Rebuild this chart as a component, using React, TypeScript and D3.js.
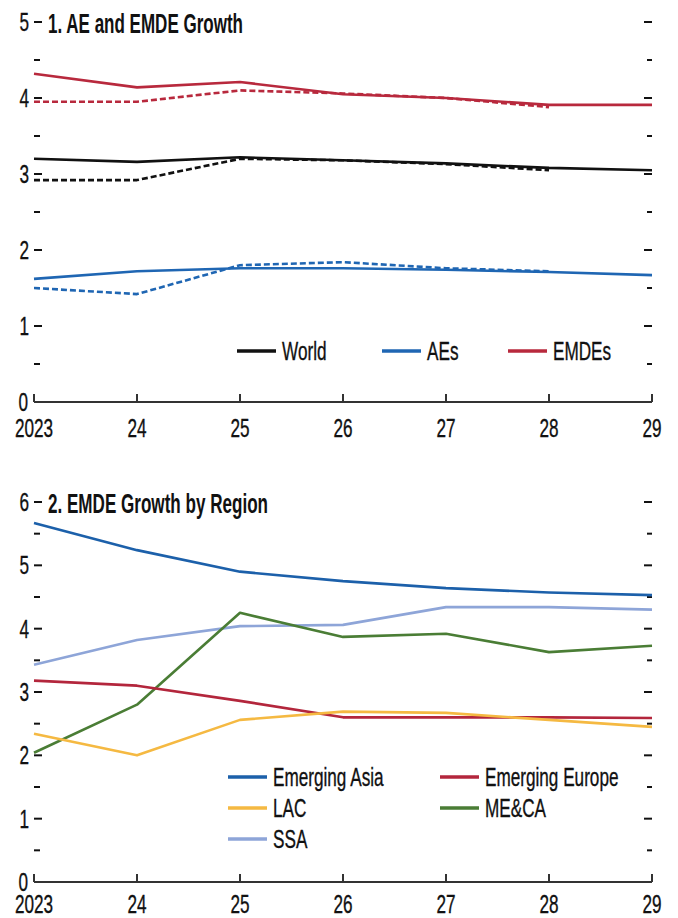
import * as d3 from 'd3'

const years = [2023, 2024, 2025, 2026, 2027, 2028, 2029]
const yearLabels = ['2023', '24', '25', '26', '27', '28', '29']

// panel 1: solid = current, dashed = earlier projection
const worldNow = [3.2, 3.16, 3.22, 3.18, 3.14, 3.08, 3.05]
const worldPrev = [2.92, 2.92, 3.2, 3.18, 3.13, 3.05]
const aesNow = [1.62, 1.72, 1.76, 1.76, 1.74, 1.71, 1.67]
const aesPrev = [1.5, 1.42, 1.8, 1.84, 1.76, 1.72]
const emdesNow = [4.32, 4.14, 4.21, 4.05, 4.0, 3.91, 3.91]
const emdesPrev = [3.95, 3.95, 4.1, 4.06, 4.0, 3.88]

// panel 2
const emAsia = [5.67, 5.24, 4.9, 4.75, 4.64, 4.57, 4.53]
const emEurope = [3.18, 3.1, 2.86, 2.6, 2.6, 2.6, 2.59]
const lac = [2.34, 2.0, 2.56, 2.69, 2.67, 2.56, 2.45]
const meca = [2.04, 2.8, 4.25, 3.87, 3.92, 3.63, 3.73]
const ssa = [3.43, 3.82, 4.04, 4.06, 4.34, 4.34, 4.3]

const FONT = "'Liberation Sans', Arial, sans-serif"
const SQ = 0.66

const x = d3.scaleLinear().domain([2023, 2029]).range([34, 652])

function Label({ x, y, text, anchor = 'start', size = 26 }: { x: number; y: number; text: string; anchor?: string; size?: number }) {
  return (
    <g transform={`translate(${x},${y}) scale(${SQ},1)`}>
      <text fontFamily={FONT} fontSize={size} textAnchor={anchor as any} fill="#111" stroke="#111" strokeWidth={0.35}>
        {text}
      </text>
    </g>
  )
}

type Series = { values: number[]; color: string; dashed?: boolean }
type LegendItem = { label: string; color: string; lx: number; ly: number }

function Panel({
  top,
  bottom,
  max,
  title,
  titleWidth,
  series,
  legend,
  labelBase,
}: {
  top: number
  bottom: number
  max: number
  title: string
  titleWidth: number
  series: Series[]
  legend: LegendItem[]
  labelBase: number
}) {
  const y = d3.scaleLinear().domain([0, max]).range([bottom, top])
  const line = d3
    .line<number>()
    .x((_, i) => x(years[i]))
    .y((d) => y(d))
  const halfTicks = d3.range(0, max + 0.01, 0.5)
  const majors = d3.range(0, max + 1, 1)
  return (
    <g>
      {/* title, starts right of the top tick label */}
      <text
        x={48}
        y={y(max) + 11}
        fontFamily={FONT}
        fontWeight="bold"
        fontSize={27}
        textLength={titleWidth}
        lengthAdjust="spacingAndGlyphs"
        fill="#111"
      >
        {title}
      </text>

      {/* inward ticks on both sides */}
      {halfTicks.map((t) => {
        const major = Number.isInteger(t)
        if (t === 0) return null
        return (
          <g key={t} stroke="#111" strokeWidth={2}>
            <line x1={34} x2={major ? 42 : 40} y1={y(t)} y2={y(t)} />
            <line x1={652} x2={major ? 644 : 647} y1={y(t)} y2={y(t)} />
          </g>
        )
      })}
      {majors.map((t) => (
        <Label key={t} x={t === 0 ? 28 : 29} y={y(t) + 9} text={String(t)} anchor="end" />
      ))}

      {series.map((s, i) => (
        <path
          key={i}
          d={line(s.values) ?? ''}
          fill="none"
          stroke={s.color}
          strokeWidth={2.6}
          strokeDasharray={s.dashed ? '6 3' : undefined}
          strokeLinejoin="round"
        />
      ))}

      {/* x axis */}
      <line x1={x(2023)} x2={x(2029)} y1={bottom} y2={bottom} stroke="#333" strokeWidth={2} />
      {years.map((yr, i) => (
        <g key={yr}>
          <line x1={x(yr)} x2={x(yr)} y1={bottom} y2={bottom - 8} stroke="#333" strokeWidth={2} />
          <Label x={x(yr)} y={labelBase} text={yearLabels[i]} anchor="middle" />
        </g>
      ))}

      {legend.map((l) => (
        <g key={l.label}>
          <line x1={l.lx} x2={l.lx + 39} y1={l.ly} y2={l.ly} stroke={l.color} strokeWidth={3.5} />
          <Label x={l.lx + 45} y={l.ly + 9} text={l.label} />
        </g>
      ))}
    </g>
  )
}

export default function App() {
  return (
    <svg width={678} height={918} style={{ position: 'absolute', left: 0, top: 0, background: '#fff' }}>
      <rect width={678} height={918} fill="#fff" />
      <Panel
        top={22}
        bottom={402}
        max={5}
        title="1. AE and EMDE Growth"
        titleWidth={195}
        labelBase={437}
        series={[
          { values: emdesPrev, color: '#b8293d', dashed: true },
          { values: emdesNow, color: '#b8293d' },
          { values: worldPrev, color: '#111', dashed: true },
          { values: worldNow, color: '#111' },
          { values: aesPrev, color: '#1f66b3', dashed: true },
          { values: aesNow, color: '#1f66b3' },
        ]}
        legend={[
          { label: 'World', color: '#111', lx: 237, ly: 351 },
          { label: 'AEs', color: '#1f66b3', lx: 382, ly: 351 },
          { label: 'EMDEs', color: '#b8293d', lx: 508, ly: 351 },
        ]}
      />
      <Panel
        top={502}
        bottom={882}
        max={6}
        title="2. EMDE Growth by Region"
        titleWidth={220}
        labelBase={913}
        series={[
          { values: ssa, color: '#8ea5d8' },
          { values: meca, color: '#4a7d35' },
          { values: emEurope, color: '#b3263c' },
          { values: lac, color: '#f5b942' },
          { values: emAsia, color: '#1c60aa' },
        ]}
        legend={[
          { label: 'Emerging Asia', color: '#1c60aa', lx: 228, ly: 777 },
          { label: 'Emerging Europe', color: '#b3263c', lx: 440, ly: 777 },
          { label: 'LAC', color: '#f5b942', lx: 228, ly: 808 },
          { label: 'ME&CA', color: '#4a7d35', lx: 440, ly: 808 },
          { label: 'SSA', color: '#8ea5d8', lx: 228, ly: 839 },
        ]}
      />
    </svg>
  )
}
